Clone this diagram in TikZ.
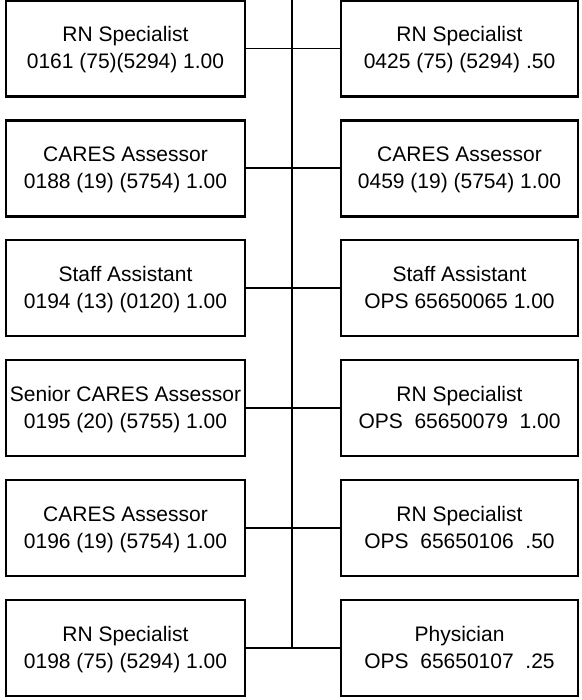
\documentclass[tikz,border=0pt]{standalone}
\usepackage{fontspec}
\setmainfont{Liberation Sans}
% fixed line height and depth so every box sets its two lines alike
\newcommand{\rowstrut}{\rule[-6pt]{0pt}{26pt}}
\begin{document}
\begin{tikzpicture}[x=1pt,y=-1pt,
  post/.style={draw, line width=2.3pt, minimum height=96pt, align=center,
    inner sep=0pt, font=\fontsize{21}{25}\selectfont},
  leftpost/.style={post, minimum width=239pt},
  rightpost/.style={post, minimum width=237pt},
  link/.style={line width=1.9pt}]
\useasboundingbox (0,0) rectangle (581,700);

% left column of positions
\node[leftpost]  (L1) at (125.5, 48.5) {\rowstrut RN Specialist\\\rowstrut 0161 (75)(5294) 1.00};
\node[leftpost]  (L2) at (125.5,168.4) {\rowstrut CARES Assessor\\\rowstrut 0188 (19) (5754) 1.00};
\node[leftpost]  (L3) at (125.5,288.3) {\rowstrut Staff Assistant\\\rowstrut 0194 (13) (0120) 1.00};
\node[leftpost]  (L4) at (125.5,408.2) {\rowstrut Senior CARES Assessor\\\rowstrut 0195 (20) (5755) 1.00};
\node[leftpost]  (L5) at (125.5,528.1) {\rowstrut CARES Assessor\\\rowstrut 0196 (19) (5754) 1.00};
\node[leftpost]  (L6) at (125.5,648.0) {\rowstrut RN Specialist\\\rowstrut 0198 (75) (5294) 1.00};

% right column of positions
\node[rightpost] (R1) at (459.5, 48.5) {\rowstrut RN Specialist\\\rowstrut 0425 (75) (5294) .50};
\node[rightpost] (R2) at (459.5,168.4) {\rowstrut CARES Assessor\\\rowstrut 0459 (19) (5754) 1.00};
\node[rightpost] (R3) at (459.5,288.3) {\rowstrut Staff Assistant\\\rowstrut OPS 65650065 1.00};
\node[rightpost] (R4) at (459.5,408.2) {\rowstrut RN Specialist\\\rowstrut OPS\ \ 65650079\ \ 1.00};
\node[rightpost] (R5) at (459.5,528.1) {\rowstrut RN Specialist\\\rowstrut OPS\ \ 65650106\ \ .50};
\node[rightpost] (R6) at (459.5,648.0) {\rowstrut Physician\\\rowstrut OPS\ \ 65650107\ \ .25};

% reporting trunk
\coordinate (trunk) at (292,0);
\draw[link] (trunk) -- (trunk |- L6.east);

% row connectors
\foreach \i in {1,...,6}
  \draw[link] (L\i.east) -- (R\i.west);
\end{tikzpicture}
\end{document}
